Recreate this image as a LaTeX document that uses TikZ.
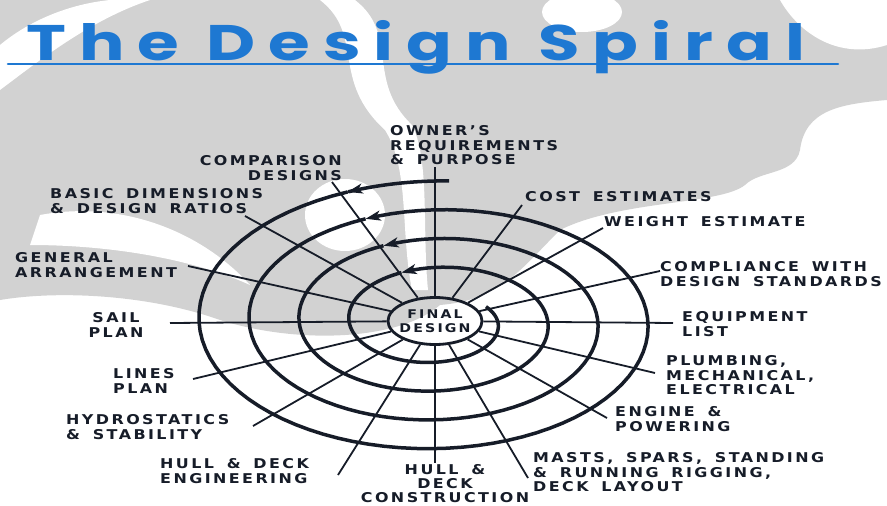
\documentclass[tikz,border=0pt]{standalone}
\usepackage{fontspec}
\usetikzlibrary{arrows.meta,shapes.geometric,calc}

\newfontfamily\letterfont[LetterSpace=18,FakeStretch=1.18,WordSpace=1.6]{DejaVu Sans}
\newfontfamily\titlefont[LetterSpace=26,FakeStretch=1.35]{Poppins}
\definecolor{ink}{RGB}{22,28,40}
\definecolor{penblue}{RGB}{30,120,210}
\definecolor{wm}{RGB}{210,210,210}

\tikzset{
  spiral/.style={ink, line width=3.5pt, line join=round},
  spoke/.style={ink, line width=1.8pt},
  lbl/.style={font=\letterfont\bfseries\fontsize{13.5}{14.8}\selectfont, text=ink, inner sep=0pt},
}

\begin{document}
\begin{tikzpicture}[x=1pt,y=-1pt]
\useasboundingbox (0,0) rectangle (887,506);

% watermark in the background
\fill[wm] (0,0) -- (887,0) -- (887,100) .. controls (840,104) and (805,110) .. (800,150)
  .. controls (795,175) and (760,170) .. (745,185) .. controls (720,205) and (620,200) .. (560,230)
  .. controls (520,270) and (500,300) .. (440,305)
  .. controls (400,340) and (300,345) .. (220,320) .. controls (150,295) and (60,290) .. (0,300) -- cycle;
\fill[white] (0,45) .. controls (30,20) and (70,4) .. (110,0) -- (150,0)
  .. controls (90,20) and (40,60) .. (0,90) -- cycle;
\fill[white] (320,0) .. controls (365,35) and (330,80) .. (385,130)
  .. controls (410,170) and (400,230) .. (412,290) -- (428,290)
  .. controls (422,230) and (430,160) .. (412,125)
  .. controls (365,80) and (400,35) .. (355,0) -- cycle;
\fill[white] (582,12) ellipse [x radius=40, y radius=20];
\fill[white] (780,0) -- (887,0) -- (887,45) .. controls (840,60) and (800,35) .. (780,0) -- cycle;
\fill[white] (345,215) ellipse [x radius=40, y radius=36];
\fill[white] (40,215) .. controls (120,200) and (200,230) .. (250,285)
  .. controls (200,262) and (120,245) .. (30,245) -- cycle;

% title
\node[anchor=base west, font=\titlefont\bfseries\fontsize{50}{50}\selectfont, text=penblue, inner sep=0pt] (title) at (26,60) {The Design Spiral};
\coordinate (ul-l) at (8,64);
\coordinate (ul-r) at (838,64);
\draw[penblue, line width=2.6pt, line cap=round] (ul-l) -- (ul-r);

% centre
\node[ellipse, draw=ink, line width=2.8pt, minimum width=94pt, minimum height=47pt, inner sep=0pt] (final) at (435,321) {};
\node[lbl, font=\letterfont\bfseries\fontsize{12}{14}\selectfont, align=center] (final-txt) at (final) {FINAL\\DESIGN};

% spokes
\foreach \n/\x/\y in {owner/435/167, comp/332/182, basic/245/216, general/188/266,
    sail/170/323, lines/193/379, hydro/253/426, hulleng/338/475, hullcon/435/463,
    masts/528/478, engine/607/418, plumb/655/373, equip/673/323, compl/660/271,
    weight/603/228, cost/522/205}
{
  \coordinate (e-\n) at (\x,\y);
  \draw[spoke] (final) -- (e-\n);
}

% spiral
\foreach \a/\b in {87/111,111/471,471/831,831/1191}
  \draw[spiral, -{Stealth[length=15pt,width=10pt,inset=4pt]}]
    plot[domain=\a:\b, samples=90, variable=\t]
    ({436+(262-0.139*\t)*cos(\t)}, {322-(148.2-0.08*\t)*sin(\t)});
\draw[spiral] plot[domain=1191:1470, samples=90, variable=\t]
    ({436+(262-0.139*\t)*cos(\t)}, {322-(148.2-0.08*\t)*sin(\t)});

% labels
\node[lbl, anchor=north west, align=left] (owner) at (390,125) {OWNER’S\\REQUIREMENTS\\\&\ PURPOSE};
\node[lbl, anchor=north east, align=right] (comp) at (342,155) {COMPARISON\\DESIGNS};
\node[lbl, anchor=north west, align=left] (basic) at (50,188) {BASIC DIMENSIONS\\\&\ DESIGN RATIOS};
\node[lbl, anchor=north west, align=left] (general) at (15,252) {GENERAL\\ARRANGEMENT};
\node[lbl, align=center] (sail) at (116,325) {SAIL\\PLAN};
\node[lbl, anchor=north west, align=left] (lines) at (113,368) {LINES\\PLAN};
\node[lbl, anchor=north west, align=left] (hydro) at (66,414) {HYDROSTATICS\\\&\ STABILITY};
\node[lbl, anchor=north west, align=left] (hulleng) at (160,458) {HULL \&\ DECK\\ENGINEERING};
\node[lbl, font=\letterfont\bfseries\fontsize{13.5}{14}\selectfont, anchor=north, align=center] (hullcon) at (445,464) {HULL \&\\DECK\\CONSTRUCTION};
\node[lbl, anchor=north west, align=left] (masts) at (533,452) {MASTS, SPARS, STANDING\\\&\ RUNNING RIGGING,\\DECK LAYOUT};
\node[lbl, anchor=north west, align=left] (engine) at (615,406) {ENGINE \&\\POWERING};
\node[lbl, anchor=north west, align=left] (plumb) at (666,355) {PLUMBING,\\MECHANICAL,\\ELECTRICAL};
\node[lbl, anchor=north west, align=left] (equip) at (682,311) {EQUIPMENT\\LIST};
\node[lbl, anchor=north west, align=left] (compl) at (660,261) {COMPLIANCE WITH\\DESIGN STANDARDS};
\node[lbl, anchor=north west] (weight) at (604,216) {WEIGHT ESTIMATE};
\node[lbl, anchor=north west] (cost) at (525,191) {COST ESTIMATES};
\end{tikzpicture}
\end{document}
